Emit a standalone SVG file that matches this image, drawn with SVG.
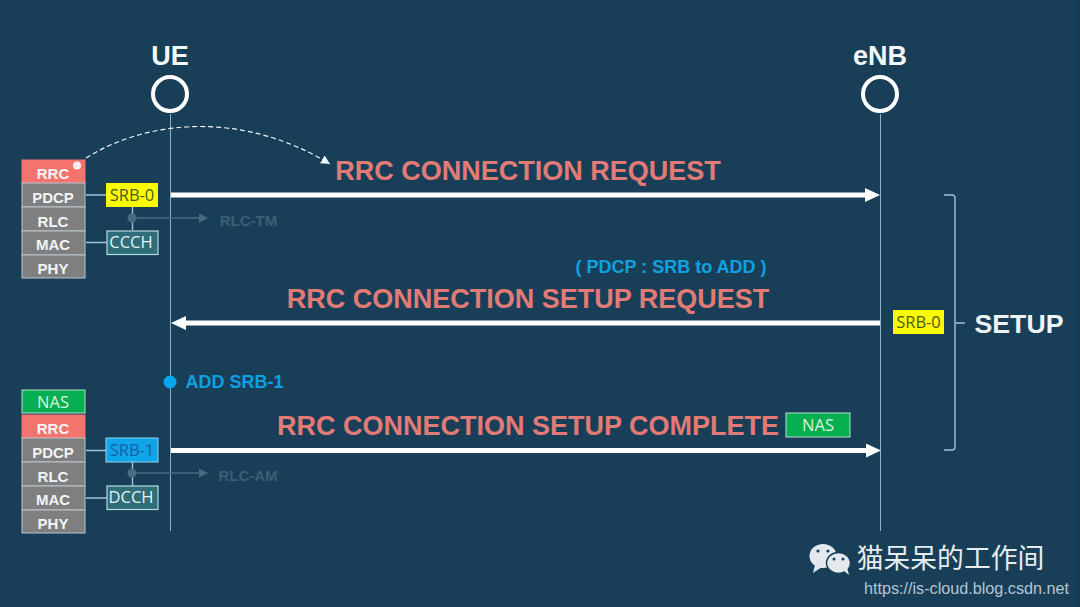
<svg xmlns="http://www.w3.org/2000/svg" width="1080" height="607" viewBox="0 0 1080 607">
<defs>
<style>
text{font-family:"Liberation Sans",Arial,sans-serif;text-anchor:middle}
.n{font-family:"Open Sans","Noto Sans",sans-serif;font-size:16.500px}
.b{font-weight:bold}
.stk{font-size:15px;font-weight:bold;fill:#f2f5f7}
.msg{font-size:27px;font-weight:bold;fill:#e27a76}
.life{stroke:#8fb3c8;stroke-width:1;fill:none}
.thin{stroke:#9cc3d8;stroke-width:1.400;fill:none}
.gr{fill:#7f7f7f;stroke:#b9c6cd;stroke-width:1}
.rrc{fill:#f4736d;stroke:#f4736d;stroke-width:1}
.nasf{fill:#06b050;stroke:#b9e0cd;stroke-width:1}
.ch{fill:#2f6d78;stroke:#b7dbe3;stroke-width:1.200}
.hd{font-size:27px;font-weight:bold;fill:#f4f7f9}
.fade{font-size:15px;font-weight:bold;fill:#3c5e75}
.fl{stroke:#486b82;stroke-width:1.500;fill:none}
</style>
<marker id="big" markerUnits="userSpaceOnUse" markerWidth="16" markerHeight="16" refX="1" refY="7" orient="auto"><path d="M0 0L15 7L0 14Z" fill="#fff"/></marker>
<marker id="fa" markerUnits="userSpaceOnUse" markerWidth="10" markerHeight="10" refX="8" refY="4.500" orient="auto"><path d="M0 0L9 4.500L0 9Z" fill="#486b82"/></marker>
<marker id="dash" markerUnits="userSpaceOnUse" markerWidth="11" markerHeight="11" refX="9" refY="4.500" orient="auto"><path d="M0 0L9 4.500L0 9Z" fill="#f0f5f8"/></marker>
</defs>
<rect width="1080" height="607" fill="#193f58"/>
<rect x="1077" width="3" height="607" fill="#17394f"/>

<g id="connectors">
<path class="life" d="M170.500 114V531M880.500 114V531"/>
<path d="M171 195H866" stroke="#fff" stroke-width="5" fill="none" marker-end="url(#big)"/>
<path d="M880 323H185" stroke="#fff" stroke-width="5" fill="none" marker-end="url(#big)"/>
<path d="M171 450.500H867" stroke="#fff" stroke-width="5" fill="none" marker-end="url(#big)"/>
<path d="M86 158C150 118 245 112 330 164" stroke="#f0f5f8" stroke-width="1.200" stroke-dasharray="5 3" fill="none" marker-end="url(#dash)"/>
<path class="thin" d="M86 195H107M86 242.500H107M132.500 207V230M86 450.500H107M86 498H107M132.500 462V486"/>
<path class="fl" d="M132 218H207" marker-end="url(#fa)"/>
<path class="fl" d="M132 473H207" marker-end="url(#fa)"/>
<circle cx="132" cy="218" r="4.500" fill="#486b82"/>
<circle cx="132" cy="473" r="4.500" fill="#486b82"/>
<path class="thin" d="M944 195H952Q955 195 955 198V447Q955 450 952 450H944M955 323H965"/>
</g>

<g id="ue"><text class="hd" x="170" y="65">UE</text><circle cx="170" cy="94" r="17" fill="none" stroke="#fff" stroke-width="4"/></g>
<g id="enb"><text class="hd" x="880" y="65">eNB</text><circle cx="880" cy="94" r="17" fill="none" stroke="#fff" stroke-width="4"/></g>

<g id="stack-top">
<rect class="rrc" x="22" y="160" width="63" height="23"/><text class="stk" x="53" y="179">RRC</text>
<circle cx="77" cy="165.500" r="4" fill="#fbeeee"/>
<rect class="gr" x="22" y="183" width="63" height="24"/><text class="stk" x="53" y="203">PDCP</text>
<rect class="gr" x="22" y="207" width="63" height="24"/><text class="stk" x="53" y="227">RLC</text>
<rect class="gr" x="22" y="231" width="63" height="24"/><text class="stk" x="53" y="250">MAC</text>
<rect class="gr" x="22" y="255" width="63" height="23"/><text class="stk" x="53" y="274">PHY</text>
</g>
<g id="stack-bottom">
<rect class="nasf" x="22" y="390" width="63" height="23"/><text class="n" x="53" y="407.500" fill="#d9f2e3">NAS</text>
<rect class="rrc" x="22" y="415" width="63" height="23"/><text class="stk" x="53" y="434">RRC</text>
<rect class="gr" x="22" y="438" width="63" height="24"/><text class="stk" x="53" y="458">PDCP</text>
<rect class="gr" x="22" y="462" width="63" height="24"/><text class="stk" x="53" y="482">RLC</text>
<rect class="gr" x="22" y="486" width="63" height="24"/><text class="stk" x="53" y="505">MAC</text>
<rect class="gr" x="22" y="510" width="63" height="23"/><text class="stk" x="53" y="529">PHY</text>
</g>
<g id="srb0-ue"><rect x="106" y="183" width="52" height="24" fill="#fcfc00"/><text class="n" x="132" y="200.500" fill="#4a5a20">SRB-0</text></g>
<g id="ccch"><rect class="ch" x="107" y="231" width="51" height="23.500"/><text class="n" x="131" y="248" fill="#e3f2f4">CCCH</text></g>
<g id="srb1-ue"><rect x="106" y="438" width="52" height="24" fill="#10a5e8" stroke="#8fd3ef" stroke-width="1"/><text class="n" x="132" y="455.500" fill="#1660a8">SRB-1</text></g>
<g id="dcch"><rect class="ch" x="107" y="486" width="51" height="23.500"/><text class="n" x="131" y="503" fill="#e3f2f4">DCCH</text></g>
<g id="srb0-enb"><rect x="893" y="310" width="51" height="24" fill="#fcfc00"/><text class="n" x="918.500" y="327.500" fill="#4a5a20">SRB-0</text></g>

<g id="labels">
<text class="msg" x="528" y="180">RRC CONNECTION REQUEST</text>
<text x="671" y="273" font-size="18" font-weight="bold" fill="#0ea2e0">( PDCP : SRB to ADD )</text>
<text class="msg" x="528" y="308">RRC CONNECTION SETUP REQUEST</text>
<text class="msg" x="528" y="435">RRC CONNECTION SETUP COMPLETE</text>
<text class="fade" x="248.500" y="225.500">RLC-TM</text>
<text class="fade" x="248" y="481">RLC-AM</text>
<text x="234.500" y="388" font-size="18" font-weight="bold" fill="#0ea2e0">ADD SRB-1</text>
<text x="1019" y="332.500" font-size="26.700" font-weight="bold" fill="#eef3f6">SETUP</text>
</g>
<g id="add-srb1"><circle cx="170" cy="382" r="6.500" fill="#06a6f0"/></g>
<g id="nas-msg"><rect class="nasf" x="786" y="413" width="64" height="24"/><text class="n" x="818" y="430.500" fill="#d9f2e3">NAS</text></g>

<g id="watermark">
<ellipse cx="823" cy="556" rx="13.500" ry="12" fill="#e3e9ed"/>
<path d="M815 565L813 573L822 567Z" fill="#e3e9ed"/>
<ellipse cx="838.500" cy="563" rx="12" ry="10.500" fill="#e3e9ed" stroke="#193f58" stroke-width="1.500"/>
<path d="M844 571L849 575L847 567Z" fill="#e3e9ed"/>
<circle cx="818" cy="551" r="1.600" fill="#193f58"/><circle cx="828" cy="551" r="1.600" fill="#193f58"/>
<circle cx="834" cy="559" r="1.500" fill="#193f58"/><circle cx="843" cy="559" r="1.500" fill="#193f58"/>
<text x="950.500" y="568" font-size="26.800" fill="#e6edf1" style="font-family:'Noto Sans CJK SC','Liberation Sans',sans-serif">猫呆呆的工作间</text>
<text x="966.500" y="593.500" font-size="16.200" fill="#b4c5d0">https://is-cloud.blog.csdn.net</text>
</g>
</svg>
